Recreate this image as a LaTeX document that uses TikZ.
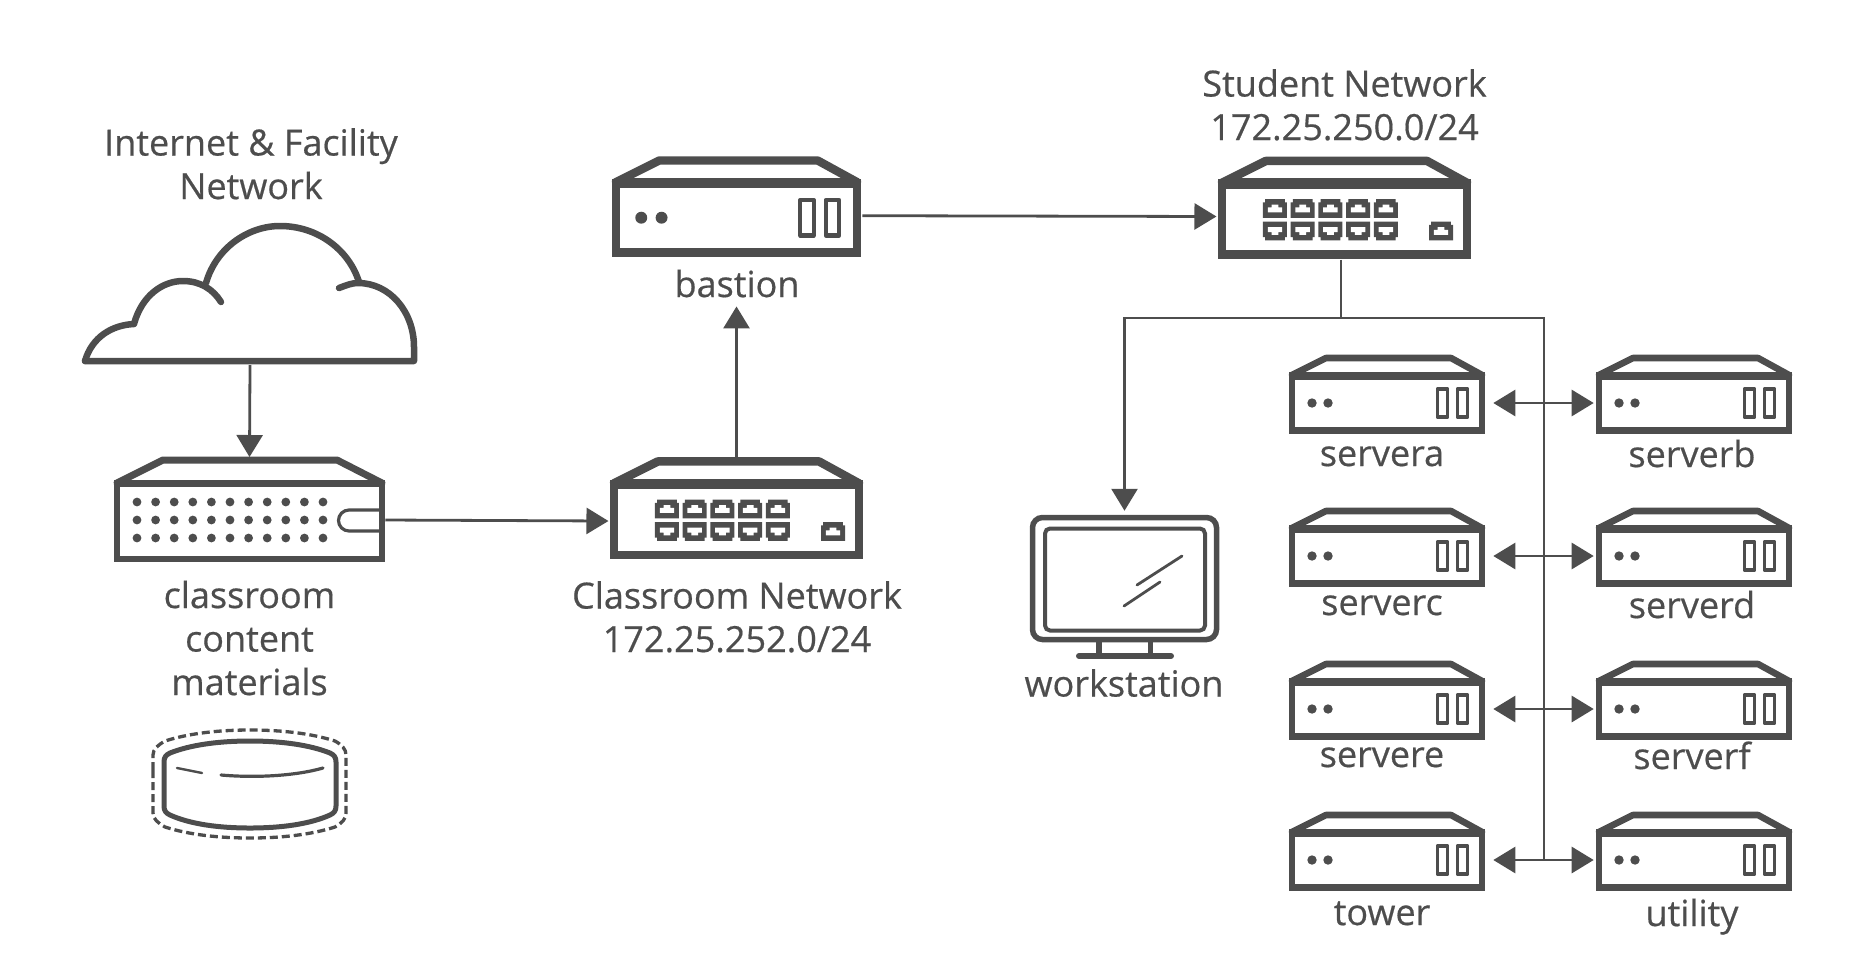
\documentclass[tikz,border=0pt]{standalone}
\usepackage{fontspec}
\setmainfont{Open Sans}[FakeBold=0.5]
\usetikzlibrary{arrows.meta,positioning,calc}
\definecolor{iconink}{HTML}{4D4D4D}
\newcommand{\drawchassis}[1]{
        \node (-body) [draw=iconink, line width=#1*6.6pt, minimum width=190pt, minimum height=55pt, inner sep=0pt, transform shape] at (0,0) {};
        \node (-shell) [minimum width=196pt, minimum height=78.5pt, inner sep=0pt, outer sep=0pt, transform shape] at (0,-8.75) {};
        \draw[icon, line width=#1*8pt, line cap=butt] (-95,-27.5) -- (95,-27.5);
        \draw[icon, line width=#1*6.6pt] (-95,-28) -- (-61,-45) -- (64,-45) -- (95,-28);
}
\tikzset{
        x=1pt, y=-1pt,
        icon/.style={draw=iconink, line join=round, line cap=round},
        netlabel/.style={text=iconink, font=\fontsize{36}{43.5}\selectfont, align=center, anchor=base, inner sep=0pt},
        conn/.style={draw=iconink, line width=2.8pt},
        connto/.style={conn, -{Triangle[length=22pt,width=26pt]}},
        connboth/.style={conn, {Triangle[length=22pt,width=26pt]}-{Triangle[length=22pt,width=26pt]}, shorten <=8pt, shorten >=2pt},
        pics/rackserver/.style={code={
                \begin{scope}[scale=#1]
                \drawchassis{#1}
                \fill[iconink] (-75,0) circle[radius=4.7];
                \fill[iconink] (-59,0) circle[radius=4.7];
                \draw[icon, line width=#1*3.2pt] (50.2,-14) rectangle (60.8,14);
                \draw[icon, line width=#1*3.2pt] (70.2,-14) rectangle (80.8,14);
                \end{scope}
        }},
        pics/portup/.style={code={
                \fill[iconink] (-9.3,7.3) -- (-9.3,-4.8) -- (-7.6,-4.8) -- (-7.6,-7.3) -- (7.6,-7.3) -- (7.6,-4.8) -- (9.3,-4.8) -- (9.3,7.3) -- cycle;
                \fill[white] (-5.6,3) -- (-5.6,-0.9) -- (-2.6,-0.9) -- (-2.6,-3) -- (2.6,-3) -- (2.6,-0.9) -- (5.6,-0.9) -- (5.6,3) -- cycle;
        }},
        pics/portdown/.style={code={
                \fill[iconink] (-9.3,-7.3) -- (-9.3,4.8) -- (-7.6,4.8) -- (-7.6,7.3) -- (7.6,7.3) -- (7.6,4.8) -- (9.3,4.8) -- (9.3,-7.3) -- cycle;
                \fill[white] (-5.6,-3) -- (-5.6,0.9) -- (-2.6,0.9) -- (-2.6,3) -- (2.6,3) -- (2.6,0.9) -- (5.6,0.9) -- (5.6,-3) -- cycle;
        }},
        pics/netswitch/.style={code={
                \begin{scope}[scale=#1]
                \drawchassis{#1}
                \foreach \px in {-53.9,-32.4,-10.9,10.6,32.1} {
                        \pic[transform shape] at (\px,-8.1) {portup};
                        \pic[transform shape] at (\px,9.3) {portdown};
                }
                \pic[transform shape] at (74.8,9.3) {portup};
                \end{scope}
        }}
}
\begin{document}
\begin{tikzpicture}
        \useasboundingbox (0,0) rectangle (1870,970);

        \node (cloud) [minimum width=334pt, minimum height=142pt, inner sep=0pt, outer sep=0pt] at (250,294) {};
        \draw[icon, line width=6.5pt] (85,361) .. controls (92,337) and (112,325) .. (134,324)
                .. controls (142,295) and (163,281) .. (183,281) .. controls (200,281) and (213,289) .. (221,302);
        \draw[icon, line width=6.5pt] (206,283) .. controls (216,248) and (248,226) .. (280,226) .. controls (318,226) and (349,250) .. (359,282);
        \draw[icon, line width=6.5pt] (339,288) .. controls (347,285) and (352,283) .. (358,283)
                .. controls (390,283) and (414,312) .. (414,347) -- (414,361) -- (85,361);
        \node (cloudtext) [netlabel] at (251,199) {Internet \& Facility\\Network};

        \node (content-body) [draw=iconink, line width=6.5pt, minimum width=265pt, minimum height=76pt, inner sep=0pt] at (249.5,521) {};
        \node (content-shell) [minimum width=271pt, minimum height=105pt, inner sep=0pt, outer sep=0pt] at (249.5,509.5) {};
        \draw[icon, line width=7pt, line cap=butt] (117,483) -- (382,483);
        \draw[icon, line width=7pt] (117,483) -- (163,460) -- (337,460) -- (382,483);
        \foreach \cx in {137,155.6,174.2,192.8,211.4,230,248.6,267.2,285.8,304.4,323} {
                \foreach \cy in {502,520,538} {
                        \fill[iconink] (\cx,\cy) circle[radius=4.4];
                }
        }
        \draw[icon, line width=3.2pt, line cap=butt] (379,510) -- (349,510) arc[start angle=270, end angle=90, radius=10.5] -- (379,531);
        \node (contenttext) [netlabel] at (249.5,695) {classroom\\content\\materials};

        \draw[icon, line width=5pt] (164,762) .. controls (164,757) and (166,755) .. (170,753) .. controls (190,745) and (218,741) .. (250,741)
                .. controls (282,741) and (310,745) .. (330,753) .. controls (334,755) and (336,757) .. (336,762)
                -- (336,806) .. controls (336,811) and (334,813) .. (330,815) .. controls (310,824) and (282,828) .. (250,828)
                .. controls (218,828) and (190,824) .. (170,815) .. controls (166,813) and (164,811) .. (164,806) -- cycle;
        \draw[icon, line width=2.4pt] (177,768) -- (202,773);
        \draw[icon, line width=3.2pt] (221,775) .. controls (255,778) and (295,776) .. (323,768);
        \draw[icon, line width=3.3pt, dash pattern=on 8pt off 4pt, line cap=butt] (153,770) -- (153,755) .. controls (153,749) and (158,745) .. (165,741)
                .. controls (190,733) and (220,730) .. (250,730) .. controls (280,730) and (310,733) .. (335,741)
                .. controls (342,745) and (346,749) .. (346,755) -- (346,813) .. controls (346,819) and (342,823) .. (335,827)
                .. controls (310,835) and (280,838) .. (250,838) .. controls (220,838) and (190,835) .. (165,827)
                .. controls (158,823) and (153,819) .. (153,813) -- cycle;

        \pic (classnet) at (736.5,519.5) {netswitch={1.29}};
        \node (classnettext) [netlabel] at (737,652) {Classroom Network\\172.25.252.0/24};

        \pic (bastion) at (736.5,217.7) {rackserver={1.27}};
        \node (bastiontext) [netlabel] at (737,297) {bastion};

        \pic (student) at (1344.5,219) {netswitch={1.29}};
        \node (studenttext) [netlabel] at (1344.5,140) {Student Network\\172.25.250.0/24};

        \node (workstation) [draw=iconink, line width=5.5pt, rounded corners=10pt, minimum width=184pt, minimum height=122pt, inner sep=0pt] at (1124.5,578.5) {};
        \node (screen) [draw=iconink, line width=4pt, rounded corners=5pt, minimum width=160pt, minimum height=102pt, inner sep=0pt] at (1125,579.5) {};
        \draw[icon, line width=2.8pt] (1137,585) -- (1182,556);
        \draw[icon, line width=2.8pt] (1124,606) -- (1160,582);
        \draw[icon, line width=5.5pt, line cap=butt] (1099,641) -- (1099,654);
        \draw[icon, line width=5.5pt, line cap=butt] (1150.5,641) -- (1150.5,654);
        \draw[icon, line width=6pt] (1079,656) -- (1171,656);
        \node (worktext) [netlabel] at (1124,696.5) {workstation};

        \pic (servera) at (1387,403) {rackserver={1}};
        \pic (serverb) at (1694,403) {rackserver={1}};
        \pic (serverc) at (1387,556) {rackserver={1}};
        \pic (serverd) at (1694,556) {rackserver={1}};
        \pic (servere) at (1387,709) {rackserver={1}};
        \pic (serverf) at (1694,709) {rackserver={1}};
        \pic (tower) at (1387,860) {rackserver={1}};
        \pic (utility) at (1694,860) {rackserver={1}};

        \node (serveratext) [netlabel] at (1382,466) {servera};
        \node (serverbtext) [netlabel] at (1692,467) {serverb};
        \node (serverctext) [netlabel] at (1382,615) {serverc};
        \node (serverdtext) [netlabel] at (1692,618) {serverd};
        \node (serveretext) [netlabel] at (1382,767) {servere};
        \node (serverftext) [netlabel] at (1692,769) {serverf};
        \node (towertext) [netlabel] at (1382,925) {tower};
        \node (utilitytext) [netlabel] at (1692,926) {utility};

        \draw[connto] (cloud.south) -- (content-shell.north);
        \draw[connto] ([yshift=1pt]content-body.east) -- (content-body.east -| classnet-body.west);
        \draw[connto] (classnet-shell.north) -- ($(bastion-shell.south) + (0,50)$);
        \draw[connto] ([yshift=2pt]bastion-body.east) -- ([yshift=2.5pt]student-body.west);

        \coordinate (busjoin) at (1341,318);
        \coordinate (busend) at (1544,860);
        \draw[conn] (student-body.south -| busjoin) -- (busjoin);
        \draw[connto, shorten >=4pt] (busjoin) -| (workstation.north);
        \draw[conn] (busjoin) -| (busend);

        \draw[connboth] (servera-body.east) -- (serverb-body.west);
        \draw[connboth] (serverc-body.east) -- (serverd-body.west);
        \draw[connboth] (servere-body.east) -- (serverf-body.west);
        \draw[connboth] (tower-body.east) -- (utility-body.west);
\end{tikzpicture}
\end{document}
